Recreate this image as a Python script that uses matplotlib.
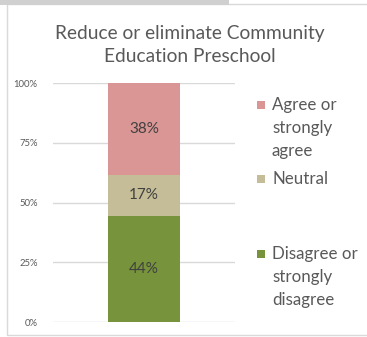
import matplotlib.pyplot as plt
from matplotlib.patches import Rectangle

# data
title = "Reduce or eliminate Community\nEducation Preschool"
categories = ["Disagree or\nstrongly\ndisagree", "Neutral", "Agree or\nstrongly\nagree"]
values = [44, 17, 38]
colors = ["#77933C", "#C4BD97", "#D99694"]
yticks = [0, 25, 50, 75, 100]

plt.rcParams['font.family'] = ['Lato', 'DejaVu Sans']

W, H = 367, 337
fig = plt.figure(figsize=(W / 100, H / 100), dpi=100, facecolor='white')

# frame of the chart and grey strip on top
fig.patches.append(Rectangle((7 / W, 2 / H), 1, (333 - 2) / H, transform=fig.transFigure,
                             facecolor='none', edgecolor='#d9d9d9', lw=1, zorder=-1))
fig.patches.append(Rectangle((0, 1 - 5 / H), 229 / W, 5 / H, transform=fig.transFigure,
                             facecolor='#d0d0d0', edgecolor='none', zorder=-1))

ax = fig.add_axes([53 / W, 15 / H, (235 - 53) / W, (322 - 83) / H])
ax.set_facecolor('none')

total = sum(values)
bottom = 0
for v, c in zip(values, colors):
    h = v / total * 100
    ax.bar(0, h, bottom=bottom, width=0.4, color=c, zorder=3)
    ax.text(0, bottom + h / 2, f"{v}%", ha='center', va='center',
            fontsize=11, color='#404040', zorder=4)
    bottom += h

ax.set_xlim(-0.5, 0.5)
ax.set_ylim(0, 100)
ax.set_yticks(yticks)
ax.set_yticklabels([f"{t}%" for t in yticks], fontsize=6.8, color='#595959')
ax.set_xticks([])
ax.tick_params(axis='y', length=0, pad=11)
ax.grid(axis='y', color='#d9d9d9', lw=1, zorder=0)
for s in ax.spines.values():
    s.set_visible(False)

fig.text(190 / W, 1 - 45 / H, title, ha='center', va='center', fontsize=13.8,
         color='#595959', linespacing=1.5)

# legend, laid out like the original
legend_y = [105, 179, 254]
order = [2, 1, 0]
for y, i in zip(legend_y, order):
    fig.patches.append(Rectangle((257 / W, 1 - (y + 4) / H), 8 / W, 8 / H,
                                 transform=fig.transFigure, facecolor=colors[i],
                                 edgecolor='none'))
    fig.text(272 / W, 1 - (y - 8) / H, categories[i], ha='left', va='top',
             fontsize=12.2, color='#595959', linespacing=1.55)

fig.savefig('out.png', dpi=100)
